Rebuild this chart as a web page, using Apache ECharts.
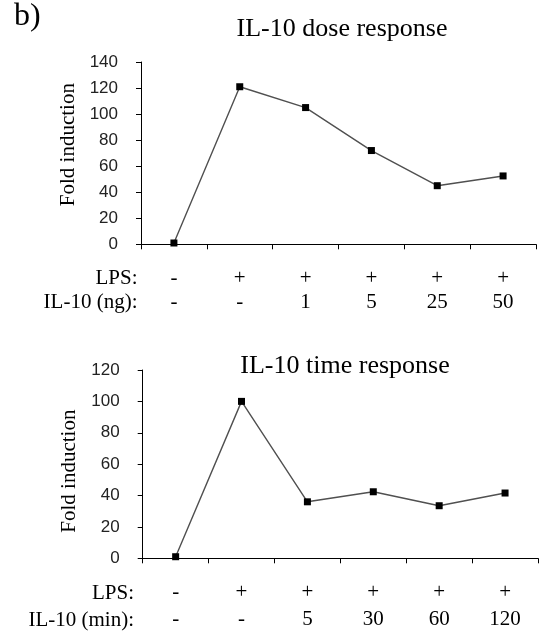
<!DOCTYPE html>
<html>
<head>
<meta charset="utf-8">
<script src="https://cdn.jsdelivr.net/npm/echarts@6/dist/echarts.min.js"></script>
<style>html,body{margin:0;padding:0;background:#fff}#c{width:543px;height:637px}</style>
</head>
<body>
<div id="c"></div>
<script>
// Chart 1: IL-10 dose response
const lps1 = ['-', '+', '+', '+', '+', '+'];
const il10Dose = ['-', '-', '1', '5', '25', '50'];
const foldDose = [1, 121, 105, 72, 45, 52.5];
// Chart 2: IL-10 time response
const lps2 = ['-', '+', '+', '+', '+', '+'];
const il10Time = ['-', '-', '5', '30', '60', '120'];
const foldTime = [1, 100, 36, 42.4, 33.5, 41.6];

const serif = '"Liberation Serif", "Times New Roman", serif';
const sans = '"Liberation Sans", Arial, sans-serif';

const cats1 = lps1.map((v, i) => v + '\n' + il10Dose[i]);
const cats2 = lps2.map((v, i) => v + '\n' + il10Time[i]);

function xAx(gi, data, margin, lh) {
  return {
    type: 'category', gridIndex: gi, data: data, boundaryGap: true,
    axisLine: { show: true, lineStyle: { color: '#000', width: 1 } },
    axisTick: { show: true, length: 5, inside: false, alignWithLabel: false, interval: 0, lineStyle: { color: '#000', width: 1 } },
    axisLabel: { margin: margin, fontFamily: serif, fontSize: 21, color: '#000', lineHeight: lh, interval: 0 }
  };
}
function yAx(gi, max, gap, pad) {
  return {
    type: 'value', gridIndex: gi, min: 0, max: max, interval: 20,
    name: 'Fold induction', nameLocation: 'middle', nameGap: gap,
    nameTextStyle: { fontFamily: serif, fontSize: 21, color: '#000', padding: pad },
    axisLine: { show: true, lineStyle: { color: '#000', width: 1 } },
    axisTick: { show: true, length: 5, lineStyle: { color: '#000' } },
    splitLine: { show: false },
    axisLabel: { margin: 23, fontFamily: sans, fontSize: 17, color: '#222' }
  };
}
function ser(xi, data) {
  return {
    type: 'line', xAxisIndex: xi, yAxisIndex: xi, data: data,
    symbol: 'rect', symbolSize: 7,
    itemStyle: { color: '#000' },
    lineStyle: { color: '#505050', width: 1.4 },
    animation: false
  };
}

const chart = echarts.init(document.getElementById('c'), null, { renderer: 'canvas' });
chart.setOption({
  animation: false,
  title: [
    { text: 'IL-10 dose response', left: 337, top: 11, textAlign: 'center',
      textStyle: { fontFamily: serif, fontSize: 26, fontWeight: 'normal', color: '#000' } },
    { text: 'IL-10 time response', left: 340, top: 348, textAlign: 'center',
      textStyle: { fontFamily: serif, fontSize: 26, fontWeight: 'normal', color: '#000' } }
  ],
  grid: [
    { left: 141, right: 7, top: 62, height: 182.3 },
    { left: 142.7, right: 5, top: 370, height: 188.3 }
  ],
  xAxis: [xAx(0, cats1, 21.5, 24.5), xAx(1, cats2, 21, 27)],
  yAxis: [yAx(0, 140, 60, [0, 0, 0, 17]), yAx(1, 120, 55, [0, 14, 0, 0])],
  series: [ser(0, foldDose), ser(1, foldTime)],
  graphic: [
    { type: 'text', left: 14, top: 1, style: { text: 'b)', font: '32px ' + serif, fill: '#000' } },
    { type: 'text', x: 137.5, y: 278, style: { text: 'LPS:', font: '21px ' + serif, fill: '#000', textAlign: 'right', textVerticalAlign: 'middle' } },
    { type: 'text', x: 137.5, y: 302.5, style: { text: 'IL-10 (ng):', font: '21px ' + serif, fill: '#000', textAlign: 'right', textVerticalAlign: 'middle' } },
    { type: 'text', x: 134, y: 593, style: { text: 'LPS:', font: '21px ' + serif, fill: '#000', textAlign: 'right', textVerticalAlign: 'middle' } },
    { type: 'text', x: 134, y: 620, style: { text: 'IL-10 (min):', font: '21px ' + serif, fill: '#000', textAlign: 'right', textVerticalAlign: 'middle' } }
  ]
});
</script>
</body>
</html>
